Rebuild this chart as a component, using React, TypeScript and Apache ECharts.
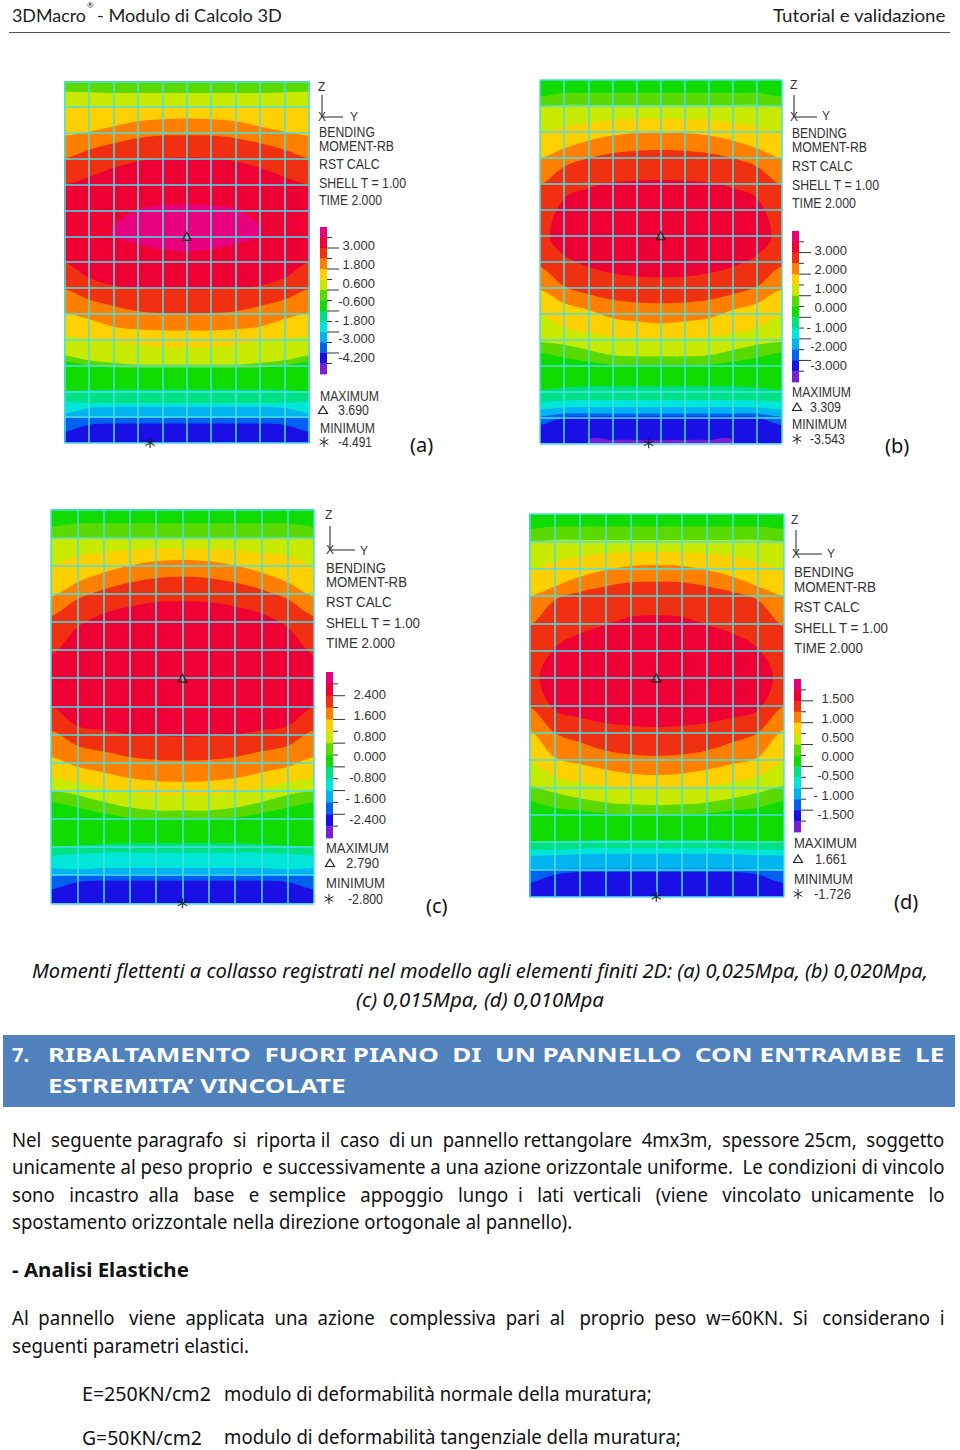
import React, { useEffect, useRef } from "react";
import * as echarts from "echarts";

// Colour bands, lowest to highest, as in the colour bars
const bandColors = ["#7a1fd8", "#1a10e6", "#0060f0", "#00b4f0", "#00e6d8", "#00e084", "#10dc00", "#5ada00", "#c8ea00", "#ffd000", "#ff8000", "#f03010", "#ee0034", "#e8007c"];

// Column nodes at which each band edge was read (mirrored about column 5)
const nodes = [0, 1, 2, 3, 4, 5];
const Z = [0, 0, 0, 0, 0, 0];
const E = [14, 14, 14, 14, 14, 14];

// [band index, top edge, bottom edge, tip] in element rows
const contoursA: any[] = [
  [0, Z, E], [1, Z, E],
  [2, Z, [13.55, 13.3, 13.25, 13.25, 13.25, 13.25]],
  [3, Z, [13.03, 13.03, 13.03, 13.03, 13.03, 13.03]],
  [4, Z, [12.85, 12.65, 12.6, 12.6, 12.6, 12.6]],
  [5, Z, [12.4, 12.45, 12.45, 12.45, 12.45, 12.45]],
  [6, Z, [12.0, 11.95, 11.93, 11.93, 11.93, 11.93]],
  [7, Z, [10.85, 11.0, 11.08, 11.1, 11.1, 11.1]],
  [8, [0.4, 0.42, 0.45, 0.45, 0.45, 0.45], [10.6, 10.8, 10.9, 10.97, 10.97, 10.97]],
  [9, [1.05, 1.0, 1.0, 1.0, 1.0, 1.0], [9.87, 9.95, 10.05, 10.2, 10.3, 10.3]],
  [10, [2.1, 1.95, 1.75, 1.55, 1.47, 1.44], [8.97, 9.2, 9.5, 9.6, 9.65, 9.65]],
  [11, [2.98, 2.65, 2.4, 2.2, 2.1, 2.09], [8.05, 8.45, 8.7, 8.9, 8.97, 9.0]],
  [12, [4.0, 3.7, 3.35, 3.1, 2.98, 2.95], [7.0, 7.6, 7.9, 8.0, 8.05, 8.05]],
  [13, [null, null, 5.6, 4.95, 4.8, 4.78], [null, null, 6.0, 6.3, 6.5, 6.6], [1.95, 5.9]],
];
const contoursB: any[] = [
  [0, Z, E],
  [1, Z, [14, 14, 13.9, 13.87, 13.87, 13.87]],
  [2, Z, [13.3, 13.0, 12.97, 12.97, 12.97, 12.97]],
  [3, Z, [12.97, 12.85, 12.85, 12.85, 12.85, 12.85]],
  [4, Z, [12.7, 12.62, 12.6, 12.6, 12.6, 12.6]],
  [5, Z, [12.4, 12.35, 12.33, 12.33, 12.33, 12.33]],
  [6, Z, [11.95, 11.85, 11.8, 11.8, 11.8, 11.8]],
  [7, [0.64, 0.5, 0.5, 0.5, 0.5, 0.5], [10.5, 10.7, 10.85, 10.97, 10.97, 10.97]],
  [8, [1.03, 0.96, 0.96, 0.96, 0.96, 0.96], [10.1, 10.2, 10.4, 10.6, 10.65, 10.65]],
  [9, [2.05, 1.8, 1.67, 1.54, 1.5, 1.5], [9.05, 9.55, 9.75, 9.88, 9.95, 9.95]],
  [10, [3.02, 2.63, 2.34, 2.14, 2.05, 2.05], [8.08, 8.6, 8.85, 9.18, 9.3, 9.37]],
  [11, [4.04, 3.34, 3.02, 2.82, 2.73, 2.7], [7.2, 7.95, 8.25, 8.47, 8.57, 8.6]],
  [12, [null, 4.56, 4.17, 3.95, 3.88, 3.85], [null, 6.74, 7.2, 7.45, 7.57, 7.6], [0.4, 6]],
];
const contoursC: any[] = [
  [0, Z, E], [1, Z, E],
  [2, Z, [13.5, 13.25, 13.2, 13.2, 13.2, 13.2]],
  [3, Z, [13.0, 13.0, 12.97, 12.97, 12.97, 12.97]],
  [4, Z, [12.75, 12.8, 12.75, 12.75, 12.75, 12.75]],
  [5, Z, [12.3, 12.25, 12.2, 12.2, 12.2, 12.2]],
  [6, Z, [12.0, 11.95, 11.9, 11.87, 11.87, 11.87]],
  [7, [0.62, 0.5, 0.5, 0.5, 0.5, 0.5], [10.4, 10.6, 10.8, 10.95, 11.0, 11.0]],
  [8, [1.03, 1.0, 1.03, 1.03, 1.03, 1.03], [10.0, 10.15, 10.4, 10.6, 10.7, 10.7]],
  [9, [2.0, 1.65, 1.55, 1.45, 1.4, 1.39], [9.55, 9.7, 9.9, 10.05, 10.15, 10.15]],
  [10, [3.1, 2.6, 2.25, 2.0, 1.85, 1.8], [8.8, 9.15, 9.35, 9.55, 9.65, 9.68]],
  [11, [3.8, 3.2, 2.85, 2.6, 2.45, 2.4], [7.85, 8.4, 8.6, 8.8, 8.9, 8.93]],
  [12, [5.2, 4.2, 3.7, 3.45, 3.3, 3.28], [7.0, 7.7, 7.85, 8.0, 8.05, 8.08]],
];
const contoursD: any[] = [
  [0, Z, E], [1, Z, E],
  [2, Z, [13.5, 13.2, 13.1, 13.1, 13.1, 13.1]],
  [3, Z, [13.05, 13.0, 12.97, 12.97, 12.97, 12.97]],
  [4, Z, [12.5, 12.48, 12.45, 12.43, 12.43, 12.43]],
  [5, Z, [12.3, 12.28, 12.25, 12.23, 12.23, 12.23]],
  [6, Z, [12.05, 12.0, 11.95, 11.93, 11.93, 11.93]],
  [7, [0.55, 0.46, 0.46, 0.46, 0.46, 0.46], [10.5, 10.75, 10.85, 10.95, 11.0, 11.0]],
  [8, [1.0, 0.95, 0.95, 0.95, 0.95, 0.95], [9.95, 10.2, 10.4, 10.55, 10.62, 10.65]],
  [9, [2.05, 1.75, 1.55, 1.45, 1.4, 1.38], [9.05, 9.6, 9.8, 9.95, 10.05, 10.1]],
  [10, [3.0, 2.65, 2.3, 2.05, 1.9, 1.87], [7.9, 8.9, 9.15, 9.35, 9.5, 9.55]],
  [11, [4.1, 3.15, 2.85, 2.65, 2.5, 2.48], [7.05, 8.0, 8.35, 8.65, 8.8, 8.85]],
  [12, [null, 4.9, 4.37, 4.06, 3.76, 3.7], [null, 7.17, 7.45, 7.65, 7.75, 7.8], [0.4, 6]],
];

const maxPoints = [[5, 6], [5, 6], [5, 6], [5, 6]];
const minPoints = [[3.5, 14], [4.5, 14], [5, 14], [5, 14]];

const ticksA = ["3.000", "1.800", "0.600", "-0.600", "- 1.800", "-3.000", "-4.200"];
const ticksB = ["3.000", "2.000", "1.000", "0.000", "- 1.000", "-2.000", "-3.000"];
const ticksC = ["2.400", "1.600", "0.800", "0.000", "-0.800", "- 1.600", "-2.400"];
const ticksD = ["1.500", "1.000", "0.500", "0.000", "-0.500", "- 1.000", "-1.500"];
const maxValues = ["3.690", "3.309", "2.790", "1.661"];
const minValues = ["-4.491", "-3.543", "-2.800", "-1.726"];
const panelTags = ["(a)", "(b)", "(c)", "(d)"];
const infoLines = ["BENDING", "MOMENT-RB", "RST CALC", "SHELL T = 1.00", "TIME 2.000"];

// Layout of each panel in page pixels
const layouts = [
  { g: [64.5, 81.3, 244.5, 361.7], z: [322, 87], ax: [322, 95, 117, 343], y: [354, 117], info: [319, [132, 146, 164, 183, 200], [375, 394, 380, 407, 382]], bar: [320, 227, 374, 7], tickY: [245, 264, 283, 301, 320, 338, 357], tickR: 375, mx: [320, 379, 396, 338, 369, 410, 323], mn: [320, 375, 428, 338, 372, 442, 324], tag: [410, 444] },
  { g: [540, 80, 241.3, 363.3], z: [794, 85], ax: [794, 95, 117, 817], y: [826, 116], info: [792, [133, 147, 166, 185, 203], [847, 867, 853, 880, 856]], bar: [792, 231, 382, 7], tickY: [250, 269, 288, 307, 327, 346, 365], tickR: 847, mx: [792, 851, 392, 810, 841, 407, 797], mn: [792, 847, 424, 810, 845, 439, 797], tag: [885, 445] },
  { g: [51, 509.3, 263, 394], z: [329, 515], ax: [330, 526, 550, 355], y: [364, 551], info: [326, [568, 582, 602, 623, 643], [386, 407, 392, 421, 395]], bar: [326, 672, 838, 7], tickY: [694, 715, 736, 756, 777, 798, 819], tickR: 386, mx: [326, 389, 848, 346, 379, 863, 330], mn: [326, 385, 883, 348, 383, 899, 329], tag: [426, 905] },
  { g: [529.3, 514, 254, 382.7], z: [795, 520], ax: [796, 530, 554, 822], y: [831, 554], info: [794, [572, 587, 607, 628, 648], [854, 876, 860, 889, 863]], bar: [794, 679, 832, 7], tickY: [698, 718, 737, 756, 775, 795, 814], tickR: 854, mx: [794, 857, 843, 815, 847, 859, 798], mn: [794, 853, 879, 814, 851, 894, 798], tag: [894, 901] },
];

const bodyFont = "19.5px 'Noto Sans'";
const capFont = "italic 20px 'Noto Sans'";
const asterisk = "path://M-0.6 -5L0.6 -5L0.6 5L-0.6 5ZM-4.05 -2.93L4.55 2.07L4.05 2.93L-4.55 -2.07ZM4.05 -2.93L4.55 -2.07L-4.05 2.93L-4.55 2.07Z";

const ctx = document.createElement("canvas").getContext("2d")!;
function fit(text: string, x0: number, x1: number, yc: number, font: string, fill = "#111", z = 20) {
  ctx.font = font;
  const w = ctx.measureText(text).width;
  return { type: "text", x: x0, y: yc, scaleX: (x1 - x0) / w, z, style: { text, x: 0, y: 0, font, fill, align: "left", verticalAlign: "middle" } };
}
// Justified line: pad the gaps with ordinary spaces, then fit the small remainder
function just(text: string, x0: number, x1: number, yc: number, font: string, baseScale: number, fill = "#111", z = 20) {
  ctx.font = font;
  const words = text.split(" ");
  const gaps = words.length - 1;
  const sp = ctx.measureText(" ").width;
  const extra = Math.max(0, Math.round(((x1 - x0) / baseScale - ctx.measureText(text).width) / sp));
  let out = words[0];
  let used = 0;
  for (let i = 1; i <= gaps; i++) {
    const want = Math.round((extra * i) / gaps);
    out += " ".repeat(1 + want - used) + words[i];
    used = want;
  }
  return fit(out, x0, x1, yc, font, fill, z);
}
function lineScale(text: string, width: number, font: string) {
  ctx.font = font;
  return width / ctx.measureText(text).width;
}
const plain = (text: string, x: number, yc: number, font: string, fill = "#111", z = 20) => ({ type: "text", x, y: yc, z, style: { text, x: 0, y: 0, font, fill, align: "left", verticalAlign: "middle" } });
const seg = (x1: number, y1: number, x2: number, y2: number, stroke = "#222", lineWidth = 1) => ({ type: "line", z: 20, shape: { x1, y1, x2, y2 }, style: { stroke, lineWidth } });

function mirror(a: any[]) {
  return [...a, ...a.slice(0, 5).reverse()];
}

function polygon(row: any[]) {
  const top = mirror(row[1]);
  const bot = mirror(row[2]);
  const tip = row[3];
  const xs = mirror(nodes).map((n, i) => (i <= 5 ? n : 10 - n));
  const pts: number[][] = [];
  const up = (v: number) => (v === 0 ? -3 : v);
  const dn = (v: number) => (v === 14 ? 17 : v);
  if (tip) pts.push(tip);
  else pts.push([-1, up(top[0])]);
  xs.forEach((x, i) => { if (top[i] !== null) pts.push([x, up(top[i])]); });
  if (tip) pts.push([10 - tip[0], tip[1]]);
  else pts.push([11, up(top[0])], [11, dn(bot[0])]);
  for (let i = xs.length - 1; i >= 0; i--) if (bot[i] !== null) pts.push([xs[i], dn(bot[i])]);
  if (!tip) pts.push([-1, dn(bot[0])]);
  return pts;
}

function sideLegend(i: number, ticks: string[]) {
  const L: any = layouts[i];
  const els: any[] = [];
  const pix = "14px 'Liberation Sans'";
  const c = "#333";
  els.push(plain("Z", L.z[0] - 4, L.z[1], "12px 'Liberation Sans'", c));
  els.push(seg(L.ax[0], L.ax[1], L.ax[0], L.ax[2]));
  els.push(seg(L.ax[0], L.ax[2], L.ax[3], L.ax[2]));
  els.push(plain("X", L.ax[0] - 4, L.ax[2], "12px 'Liberation Sans'", c));
  els.push(plain("Y", L.y[0] - 4, L.y[1], "12px 'Liberation Sans'", c));
  infoLines.forEach((t, k) => els.push(fit(t, L.info[0], L.info[2][k], L.info[1][k], pix, c)));
  const [bx, by0, by1, bw] = L.bar;
  const h = (by1 - by0) / bandColors.length;
  bandColors.slice().reverse().forEach((col, k) => {
    els.push({ type: "rect", z: 20, shape: { x: bx, y: by0 + k * h, width: bw, height: h + 0.4 }, style: { fill: col } });
    if (k > 0) {
      const isMajor = k % 2 === 0;
      els.push(seg(bx + bw, by0 + k * h, bx + bw + (isMajor ? 12 : 5), by0 + k * h, "#333"));
    }
  });
  ticks.forEach((t, k) => {
    els.push({ type: "text", x: L.tickR, y: L.tickY[k], z: 20, style: { text: t, x: 0, y: 0, font: "13px 'Liberation Sans'", fill: c, align: "right", verticalAlign: "middle" } });
  });
  els.push(fit("MAXIMUM", L.mx[0], L.mx[1], L.mx[2], pix, c));
  els.push(fit(maxValues[i], L.mx[3], L.mx[4], L.mx[5], pix, c));
  els.push(fit("MINIMUM", L.mn[0], L.mn[1], L.mn[2], pix, c));
  els.push(fit(minValues[i], L.mn[3], L.mn[4], L.mn[5], pix, c));
  const tx = L.mx[6], ty = L.mx[5];
  els.push({ type: "polygon", z: 20, shape: { points: [[tx, ty - 4], [tx + 4.5, ty + 3.5], [tx - 4.5, ty + 3.5]] }, style: { fill: "none", stroke: "#222", lineWidth: 1.2 } });
  const ax = L.mn[6], ay = L.mn[5];
  els.push(seg(ax, ay - 5, ax, ay + 5), seg(ax - 4.3, ay - 2.5, ax + 4.3, ay + 2.5), seg(ax - 4.3, ay + 2.5, ax + 4.3, ay - 2.5));
  els.push(plain(panelTags[i], L.tag[0], L.tag[1], "20px 'Noto Sans'"));
  return els;
}

function pageTexts() {
  const head = "18px Lato";
  const els: any[] = [];
  els.push(fit("3DMacro", 12, 86, 15, head, "#222"));
  els.push(plain("®", 87, 5, "8px Lato", "#222"));
  els.push(fit("- Modulo di Calcolo 3D", 97, 282, 15, head, "#222"));
  els.push(fit("Tutorial e validazione", 773, 946, 15, head, "#222"));
  els.push(seg(9, 32.5, 950, 32.5, "#555", 1.2));
  els.push(fit("Momenti flettenti a collasso registrati nel modello agli elementi finiti 2D: (a) 0,025Mpa, (b) 0,020Mpa,", 32, 928, 971, capFont));
  els.push(fit("(c) 0,015Mpa, (d) 0,010Mpa", 356, 604, 999, capFont));
  els.push({ type: "rect", z: 10, shape: { x: 3, y: 1035, width: 952, height: 72 }, style: { fill: "#4f81bd" } });
  const hb = "bold 20px 'Noto Sans'";
  const hs = lineScale("ESTREMITA’ VINCOLATE", 298, hb);
  els.push(plain("7.", 12, 1054, hb, "#fff"));
  els.push(just("RIBALTAMENTO FUORI PIANO DI UN PANNELLO CON ENTRAMBE LE", 48, 945, 1054, hb, hs, "#fff"));
  els.push(fit("ESTREMITA’ VINCOLATE", 48, 346, 1085, hb, "#fff"));
  const l4 = "spostamento orizzontale nella direzione ortogonale al pannello).";
  const bs = lineScale(l4, 561, bodyFont);
  els.push(just("Nel seguente paragrafo si riporta il caso di un pannello rettangolare 4mx3m, spessore 25cm, soggetto", 12, 945, 1140, bodyFont, bs));
  els.push(just("unicamente al peso proprio e successivamente a una azione orizzontale uniforme. Le condizioni di vincolo", 12, 945, 1167, bodyFont, bs));
  els.push(just("sono incastro alla base e semplice appoggio lungo i lati verticali (viene vincolato unicamente lo", 12, 945, 1195, bodyFont, bs));
  els.push(fit(l4, 12, 573, 1222, bodyFont));
  els.push(fit("- Analisi Elastiche", 12, 189, 1270, "bold 19.5px 'Noto Sans'"));
  els.push(just("Al pannello viene applicata una azione complessiva pari al proprio peso w=60KN. Si considerano i", 12, 945, 1318, bodyFont, bs));
  els.push(fit("seguenti parametri elastici.", 12, 249, 1346, bodyFont));
  els.push(fit("E=250KN/cm2", 82, 211, 1394, bodyFont));
  els.push(fit("modulo di deformabilità normale della muratura;", 224, 652, 1394, bodyFont));
  els.push(fit("G=50KN/cm2", 82, 202, 1437, bodyFont));
  els.push(fit("modulo di deformabilità tangenziale della muratura;", 224, 681, 1437, bodyFont));
  return els;
}

export default function App() {
  const ref = useRef<HTMLDivElement>(null);
  useEffect(() => {
    document.body.style.margin = "0";
    const chart = echarts.init(ref.current!, null, { renderer: "svg" });
    const contours = [contoursA, contoursB, contoursC, contoursD];
    const allTicks = [ticksA, ticksB, ticksC, ticksD];
    const grid = layouts.map((L) => ({ left: L.g[0], top: L.g[1], width: L.g[2], height: L.g[3], show: false }));
    const axisBase = { type: "value", z: 5, axisLabel: { show: false }, axisTick: { show: false }, axisLine: { show: false }, splitLine: { show: true, lineStyle: { color: "#4adfe6", width: 1.5 } } };
    const xAxis = layouts.map((_, i) => ({ ...axisBase, gridIndex: i, min: 0, max: 10, interval: 1 }));
    const yAxis = layouts.map((_, i) => ({ ...axisBase, gridIndex: i, min: 0, max: 14, interval: 1, inverse: true }));
    const series: any[] = [];
    contours.forEach((rows, i) => {
      series.push({
        type: "custom", xAxisIndex: i, yAxisIndex: i, z: 2, silent: true, clip: true,
        data: rows.map((r, k) => [k, k]),
        renderItem: (params: any, api: any) => {
          const row = rows[params.dataIndex];
          return { type: "polygon", shape: { points: polygon(row).map((p) => api.coord(p)), smooth: 0.35 }, style: { fill: bandColors[row[0]] } };
        },
      });
      series.push({ type: "scatter", xAxisIndex: i, yAxisIndex: i, z: 10, symbol: "triangle", symbolSize: [9, 8], silent: true, clip: false, itemStyle: { color: "rgba(0,0,0,0)", borderColor: "#111", borderWidth: 1.3 }, data: [maxPoints[i]] });
      series.push({ type: "scatter", xAxisIndex: i, yAxisIndex: i, z: 10, symbol: asterisk, symbolSize: 10, silent: true, clip: false, itemStyle: { color: "#111" }, data: [minPoints[i]] });
    });
    const graphic = [...pageTexts(), ...layouts.flatMap((_, i) => sideLegend(i, allTicks[i]))];
    chart.setOption({ animation: false, backgroundColor: "#fff", grid, xAxis, yAxis, series, graphic });
    return () => chart.dispose();
  }, []);
  return <div ref={ref} style={{ width: 960, height: 1450 }} />;
}
